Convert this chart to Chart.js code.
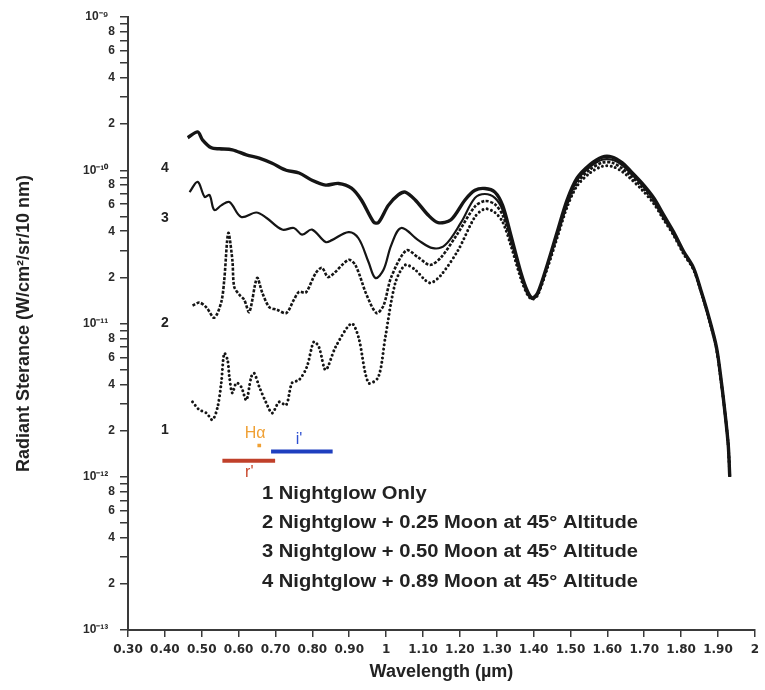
<!DOCTYPE html>
<html>
<head>
<meta charset="utf-8">
<script src="https://cdn.jsdelivr.net/npm/chart.js@4.4.1/dist/chart.umd.min.js"></script>
<style>
  html, body { margin: 0; padding: 0; background: #ffffff; }
  #wrap { width: 765px; height: 690px; position: relative; }
</style>
</head>
<body>
<div id="wrap"><canvas id="chart" width="765" height="690"></canvas></div>
<script>
// Wavelengths (µm) and radiant sterance (W/cm²/sr/10 nm) for the visible / near-IR part of each curve
const wl4 = [0.462, 0.489, 0.502, 0.526, 0.548, 0.583, 0.621, 0.656, 0.691, 0.729, 0.764, 0.799, 0.836, 0.871, 0.906, 0.933, 0.966, 0.979, 1.006, 1.033, 1.052, 1.079, 1.114, 1.141, 1.176, 1.214, 1.241];
const rad4 = [1.63e-10, 1.78e-10, 1.58e-10, 1.40e-10, 1.38e-10, 1.36e-10, 1.26e-10, 1.20e-10, 1.11e-10, 1.0e-10, 9.6e-11, 8.6e-11, 8.0e-11, 8.2e-11, 7.65e-11, 6.4e-11, 4.6e-11, 4.55e-11, 5.9e-11, 6.9e-11, 7.2e-11, 6.4e-11, 5.1e-11, 4.55e-11, 4.75e-11, 6.4e-11, 7.4e-11];

const wl3 = [0.467, 0.489, 0.508, 0.521, 0.534, 0.553, 0.575, 0.607, 0.648, 0.675, 0.718, 0.750, 0.772, 0.799, 0.836, 0.853, 0.898, 0.925, 0.952, 0.971, 0.993, 1.014, 1.041, 1.087, 1.127, 1.160, 1.203, 1.241];
const rad3 = [7.2e-11, 8.4e-11, 6.7e-11, 6.9e-11, 5.5e-11, 5.9e-11, 6.2e-11, 4.96e-11, 5.3e-11, 4.9e-11, 4.1e-11, 4.2e-11, 3.8e-11, 4.1e-11, 3.4e-11, 3.5e-11, 3.95e-11, 3.6e-11, 2.53e-11, 1.98e-11, 2.24e-11, 3.25e-11, 4.2e-11, 3.5e-11, 3.1e-11, 3.25e-11, 4.55e-11, 6.6e-11];

const wl2 = [0.475, 0.494, 0.513, 0.534, 0.553, 0.561, 0.572, 0.583, 0.588, 0.602, 0.615, 0.629, 0.650, 0.664, 0.683, 0.704, 0.729, 0.750, 0.764, 0.782, 0.809, 0.826, 0.844, 0.898, 0.917, 0.947, 0.974, 0.993, 1.014, 1.055, 1.087, 1.119, 1.149, 1.195, 1.241];
const rad2 = [1.31e-11, 1.37e-11, 1.27e-11, 1.09e-11, 1.38e-11, 1.92e-11, 3.9e-11, 2.6e-11, 1.74e-11, 1.54e-11, 1.43e-11, 1.19e-11, 1.98e-11, 1.59e-11, 1.28e-11, 1.23e-11, 1.17e-11, 1.43e-11, 1.61e-11, 1.59e-11, 2.13e-11, 2.31e-11, 2.01e-11, 2.6e-11, 2.4e-11, 1.54e-11, 1.17e-11, 1.31e-11, 2.01e-11, 3.0e-11, 2.7e-11, 2.41e-11, 2.7e-11, 3.9e-11, 5.8e-11];

const wl1 = [0.475, 0.486, 0.494, 0.513, 0.529, 0.543, 0.553, 0.561, 0.570, 0.575, 0.583, 0.594, 0.607, 0.621, 0.634, 0.642, 0.656, 0.675, 0.691, 0.710, 0.729, 0.745, 0.764, 0.785, 0.804, 0.818, 0.836, 0.863, 0.906, 0.925, 0.952, 0.979, 0.998, 1.025, 1.052, 1.079, 1.106, 1.122, 1.149, 1.195, 1.241];
const rad1 = [3.08e-12, 2.85e-12, 2.73e-12, 2.6e-12, 2.35e-12, 2.85e-12, 4.1e-12, 6.4e-12, 5.78e-12, 4.47e-12, 3.52e-12, 4.1e-12, 3.86e-12, 3.16e-12, 4.47e-12, 4.75e-12, 3.86e-12, 3.03e-12, 2.6e-12, 3.08e-12, 2.94e-12, 4.1e-12, 4.28e-12, 5.2e-12, 7.6e-12, 7.0e-12, 4.98e-12, 7.03e-12, 1.0e-11, 8.17e-12, 4.1e-12, 4.47e-12, 8.17e-12, 1.84e-11, 2.41e-11, 2.24e-11, 1.92e-11, 1.84e-11, 2.07e-11, 3.0e-11, 4.96e-11];

// Infrared tail, shared wavelength grid
const wlTail = [1.268, 1.295, 1.316, 1.338, 1.365, 1.384, 1.397, 1.411, 1.437, 1.464, 1.491, 1.518, 1.553, 1.586, 1.613, 1.640, 1.661, 1.694, 1.726, 1.753, 1.780, 1.807, 1.834, 1.855, 1.874, 1.896, 1.909, 1.920, 1.928, 1.932];
const tail4 = [7.6e-11, 7.2e-11, 5.9e-11, 3.8e-11, 2.17e-11, 1.61e-11, 1.47e-11, 1.58e-11, 2.41e-11, 3.95e-11, 6.4e-11, 8.9e-11, 1.09e-10, 1.22e-10, 1.22e-10, 1.12e-10, 1.0e-10, 8.25e-11, 6.6e-11, 5.1e-11, 3.95e-11, 2.95e-11, 2.3e-11, 1.61e-11, 1.13e-11, 7.0e-12, 4.2e-12, 2.5e-12, 1.6e-12, 1.0e-12];
const tail3 = [7.0e-11, 6.6e-11, 5.5e-11, 3.6e-11, 2.1e-11, 1.58e-11, 1.46e-11, 1.56e-11, 2.37e-11, 3.85e-11, 6.2e-11, 8.6e-11, 1.05e-10, 1.17e-10, 1.17e-10, 1.08e-10, 9.65e-11, 8.0e-11, 6.4e-11, 4.98e-11, 3.88e-11, 2.92e-11, 2.28e-11, 1.6e-11, 1.12e-11, 6.9e-12, 4.15e-12, 2.5e-12, 1.6e-12, 1.0e-12];
const tail2 = [6.3e-11, 6.0e-11, 5.1e-11, 3.45e-11, 2.05e-11, 1.56e-11, 1.45e-11, 1.55e-11, 2.33e-11, 3.75e-11, 6.0e-11, 8.25e-11, 1.01e-10, 1.12e-10, 1.12e-10, 1.03e-10, 9.3e-11, 7.75e-11, 6.25e-11, 4.88e-11, 3.82e-11, 2.88e-11, 2.26e-11, 1.59e-11, 1.11e-11, 6.85e-12, 4.1e-12, 2.5e-12, 1.6e-12, 1.0e-12];
const tail1 = [5.6e-11, 5.3e-11, 4.6e-11, 3.25e-11, 1.98e-11, 1.53e-11, 1.44e-11, 1.53e-11, 2.28e-11, 3.62e-11, 5.75e-11, 7.9e-11, 9.6e-11, 1.06e-10, 1.06e-10, 9.8e-11, 8.9e-11, 7.45e-11, 6.05e-11, 4.75e-11, 3.75e-11, 2.84e-11, 2.24e-11, 1.58e-11, 1.1e-11, 6.8e-12, 4.1e-12, 2.5e-12, 1.6e-12, 1.0e-12];

// Filter passbands and the H-alpha line
const rBandWl = [0.556, 0.699];
const rBandLevel = 1.27e-12;
const iBandWl = [0.688, 0.855];
const iBandLevel = 1.46e-12;
const hAlphaWl = [0.651, 0.661];
const hAlphaLevel = 1.6e-12;

// Curve numbers and legend lines
const curveTags = ['4', '3', '2', '1'];
const curveTagWl = [0.40, 0.40, 0.40, 0.40];
const curveTagLevel = [1.03e-10, 4.9e-11, 1.0e-11, 2.02e-12];
const legendLines = [
  '1 Nightglow Only',
  '2 Nightglow + 0.25 Moon at 45° Altitude',
  '3 Nightglow + 0.50 Moon at 45° Altitude',
  '4 Nightglow + 0.89 Moon at 45° Altitude'
];

// Axis ticks
const xTickValues = [0.3, 0.4, 0.5, 0.6, 0.7, 0.8, 0.9, 1.0, 1.1, 1.2, 1.3, 1.4, 1.5, 1.6, 1.7, 1.8, 1.9, 2.0];
const yDecades = [-13, -12, -11, -10, -9];
const yLabelledMantissas = [2, 4, 6, 8];

function points(wl, vals) {
  return wl.map((x, i) => ({ x: x, y: vals[i] }));
}
function joined(wlA, vA, wlB, vB) {
  return points(wlA.concat(wlB), vA.concat(vB));
}

const SUP = { '-': '\u207B', '0': '\u2070', '1': '\u00B9', '2': '\u00B2', '3': '\u00B3', '4': '\u2074', '5': '\u2075', '6': '\u2076', '7': '\u2077', '8': '\u2078', '9': '\u2079' };
function sup(s) { return String(s).split('').map(c => SUP[c] || c).join(''); }

const INK = '#151515';
const AXIS = '#3a3a3a';

const overlayText = {
  id: 'overlayText',
  afterDatasetsDraw(chart) {
    const { ctx, scales: { x, y } } = chart;
    ctx.save();
    ctx.textBaseline = 'middle';

    // curve numbers
    ctx.fillStyle = '#222';
    ctx.font = 'bold 14px "Liberation Sans", Arial, sans-serif';
    ctx.textAlign = 'center';
    curveTags.forEach((t, i) => {
      ctx.fillText(t, x.getPixelForValue(curveTagWl[i]), y.getPixelForValue(curveTagLevel[i]));
    });

    // filter labels
    ctx.font = '16px "Liberation Sans", Arial, sans-serif';
    ctx.fillStyle = '#f0a033';
    ctx.fillText('H\u03B1', x.getPixelForValue(0.645), y.getPixelForValue(1.9e-12));
    ctx.fillStyle = '#2e4fd0';
    ctx.fillText("i'", x.getPixelForValue(0.764), y.getPixelForValue(1.74e-12));
    ctx.fillStyle = '#c8452a';
    ctx.fillText("r'", x.getPixelForValue(0.629), y.getPixelForValue(1.06e-12));

    // legend block (slightly widened lettering)
    ctx.fillStyle = '#222';
    ctx.font = 'bold 18px "Liberation Sans", Arial, sans-serif';
    ctx.textAlign = 'left';
    const left = chart.chartArea.left + 134;
    const top = chart.chartArea.top + 477;
    legendLines.forEach((line, i) => {
      ctx.save();
      ctx.translate(left, top + i * 29.2);
      ctx.scale(1.12, 1);
      ctx.fillText(line, 0, 0);
      ctx.restore();
    });
    ctx.restore();
  }
};

const ctx = document.getElementById('chart').getContext('2d');
new Chart(ctx, {
  type: 'line',
  data: {
    datasets: [
      {
        label: '4',
        data: joined(wl4, rad4, wlTail, tail4),
        borderColor: INK, borderWidth: 3.4, pointRadius: 0, tension: 0.3
      },
      {
        label: '3',
        data: joined(wl3, rad3, wlTail, tail3),
        borderColor: INK, borderWidth: 2.2, pointRadius: 0, tension: 0.35
      },
      {
        label: '2',
        data: joined(wl2, rad2, wlTail, tail2),
        borderColor: INK, borderWidth: 2.6, borderDash: [3, 1.6], pointRadius: 0, tension: 0.3
      },
      {
        label: '1',
        data: joined(wl1, rad1, wlTail, tail1),
        borderColor: INK, borderWidth: 3, borderDash: [0.01, 4.4], borderCapStyle: 'round',
        pointRadius: 0, tension: 0.3
      },
      {
        label: "r'",
        data: points(rBandWl, [rBandLevel, rBandLevel]),
        borderColor: '#c0402a', borderWidth: 4, pointRadius: 0, tension: 0
      },
      {
        label: "i'",
        data: points(iBandWl, [iBandLevel, iBandLevel]),
        borderColor: '#1f3fbf', borderWidth: 4, pointRadius: 0, tension: 0
      },
      {
        label: 'H\u03B1',
        data: points(hAlphaWl, [hAlphaLevel, hAlphaLevel]),
        borderColor: '#f0a033', borderWidth: 3.5, pointRadius: 0, tension: 0
      }
    ]
  },
  options: {
    responsive: false,
    animation: false,
    parsing: true,
    layout: { padding: { top: 17, right: 5, left: 0, bottom: 0 } },
    plugins: { legend: { display: false }, tooltip: { enabled: false } },
    scales: {
      x: {
        type: 'linear',
        min: 0.3,
        max: 2,
        afterBuildTicks(scale) {
          scale.ticks = xTickValues.map(v => ({ value: v }));
        },
        afterFit(scale) { scale.height = 60; },
        ticks: {
          autoSkip: false,
          maxRotation: 0,
          padding: 6,
          color: '#2a2a2a',
          font: { family: '"DejaVu Sans", Verdana, sans-serif', size: 12, weight: 'bold' },
          callback(v) {
            const r = Math.round(v);
            return Math.abs(v - r) < 1e-9 ? String(r) : Number(v).toFixed(2);
          }
        },
        grid: { drawOnChartArea: false, drawTicks: true, tickLength: 7, color: AXIS, lineWidth: 1.5 },
        border: { color: AXIS, width: 2 },
        title: {
          display: true,
          text: 'Wavelength (\u00B5m)',
          color: '#222',
          font: { family: '"Liberation Sans", Arial, sans-serif', size: 18, weight: 'bold' },
          padding: { top: 0, bottom: 7 }
        }
      },
      y: {
        type: 'logarithmic',
        min: 1e-13,
        max: 1e-9,
        afterBuildTicks(scale) {
          const t = [];
          yDecades.forEach(d => {
            for (let m = 1; m <= 9; m++) {
              if (d === -9 && m > 1) break;
              t.push({ value: Number((m + 'e' + d)) });
            }
          });
          scale.ticks = t;
        },
        afterFit(scale) { scale.width = 128; },
        ticks: {
          autoSkip: false,
          padding: 5,
          color: '#2a2a2a',
          font: { family: '"Liberation Sans", Arial, sans-serif', size: 12, weight: 'bold' },
          callback(v) {
            const e = Math.floor(Math.log10(v) + 1e-9);
            const m = Math.round(v / Math.pow(10, e));
            if (m === 1) return '10' + sup(e) + '  ';
            return yLabelledMantissas.includes(m) ? String(m) : '';
          }
        },
        grid: { drawOnChartArea: false, drawTicks: true, tickLength: 8, color: AXIS, lineWidth: 1.5 },
        border: { color: AXIS, width: 2 },
        title: {
          display: true,
          text: 'Radiant Sterance (W/cm\u00B2/sr/10 nm)',
          color: '#222',
          font: { family: '"Liberation Sans", Arial, sans-serif', size: 18, weight: 'bold' },
          padding: { top: 13, bottom: 0 }
        }
      }
    }
  },
  plugins: [overlayText]
});
</script>
</body>
</html>
